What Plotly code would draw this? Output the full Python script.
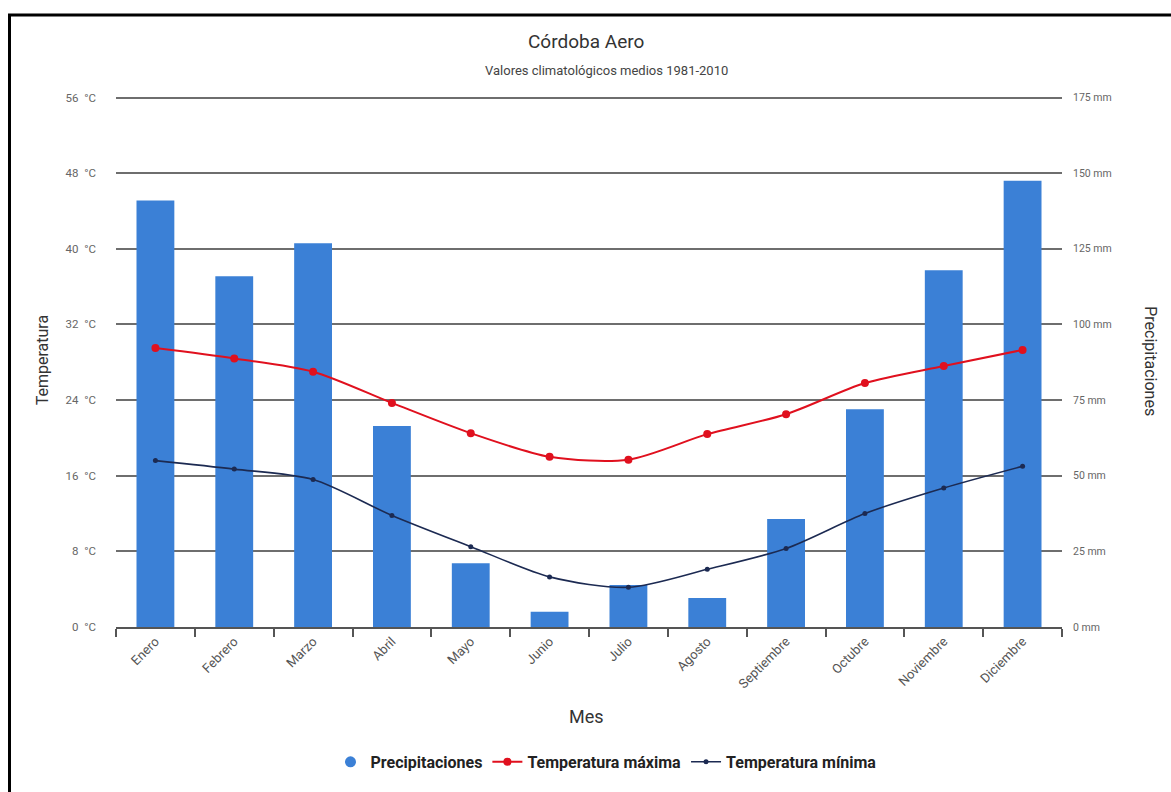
import plotly.graph_objects as go

meses = ["Enero", "Febrero", "Marzo", "Abril", "Mayo", "Junio", "Julio",
         "Agosto", "Septiembre", "Octubre", "Noviembre", "Diciembre"]
precipitaciones = [141.0, 115.9, 126.8, 66.4, 21.1, 5.0, 13.9, 9.6, 35.7, 72.0, 117.9, 147.5]
temp_max = [29.5, 28.4, 27.0, 23.7, 20.5, 18.0, 17.7, 20.4, 22.5, 25.8, 27.6, 29.3]
temp_min = [17.6, 16.7, 15.6, 11.8, 8.5, 5.3, 4.2, 6.1, 8.3, 12.0, 14.7, 17.0]

BLUE = "#3b80d6"
RED = "#e0101e"
NAVY = "#1c2a52"
FONT = "Roboto"

W, H = 1171, 792
ML, MR, MT, MB = 116, 109, 95.5, 165
PW, PH = W - ML - MR, H - MT - MB

P_MAX = 175.5
T_MAX = 56 * P_MAX / 175


def px_x(p):
    return (p - ML) / PW


def px_y(p):
    return 1 - (p - MT) / PH


fig = go.Figure()

# bars on primary axis (drawn underneath), lines on overlaying axis (drawn above)
fig.add_trace(go.Bar(
    x=meses, y=precipitaciones, yaxis="y", name="Precipitaciones",
    marker=dict(color=BLUE, line=dict(width=0)), showlegend=False,
))
fig.add_trace(go.Scatter(
    x=[None], y=[None], mode="markers", name="Precipitaciones", yaxis="y",
    marker=dict(symbol="circle", size=11, color=BLUE),
))
fig.add_trace(go.Scatter(
    x=meses, y=temp_max, mode="lines+markers", name="Temperatura máxima", yaxis="y2",
    line=dict(color=RED, width=2, shape="spline", smoothing=0.8),
    marker=dict(color=RED, size=8),
))
fig.add_trace(go.Scatter(
    x=meses, y=temp_min, mode="lines+markers", name="Temperatura mínima", yaxis="y2",
    line=dict(color=NAVY, width=1.6, shape="spline", smoothing=0.8),
    marker=dict(color=NAVY, size=5),
))

fig.update_layout(
    width=W, height=H,
    margin=dict(l=ML, r=MR, t=MT, b=MB, autoexpand=False),
    paper_bgcolor="white", plot_bgcolor="white",
    font=dict(family=FONT, color="#333333"),
    bargap=0.52,
    showlegend=True,
    legend=dict(orientation="h", x=px_x(606), xanchor="center",
                y=px_y(762), yanchor="middle",
                font=dict(family=FONT, size=16, color="#222222", weight="bold"),
                itemwidth=30, tracegroupgap=0),
    xaxis=dict(
        type="category", range=[-0.5, 11.5], tickangle=-45,
        tickfont=dict(family=FONT, size=13, color="#555555"),
        showgrid=False, showline=True, linecolor="#555555", linewidth=1.5,
        ticks="outside", ticklen=8, tickcolor="#555555", tickwidth=1.5,
        tickson="boundaries",
    ),
    yaxis=dict(
        range=[0, P_MAX], dtick=25, tick0=0, ticksuffix=" mm",
        tickfont=dict(family=FONT, size=10.5, color="#666666"),
        side="right", showgrid=True, gridcolor="#6e6e6e", gridwidth=1.5,
        zeroline=False, showline=False, ticks="", ticklabelstandoff=10,
    ),
    yaxis2=dict(
        range=[0, T_MAX], dtick=8, tick0=0, ticksuffix="\u2002°C",
        tickfont=dict(family=FONT, size=11.5, color="#666666"),
        overlaying="y", side="left", showgrid=False, zeroline=False,
        showline=False, ticks="", ticklabelstandoff=19,
    ),
    annotations=[
        dict(text="Córdoba Aero", x=px_x(586), y=px_y(41), xref="paper", yref="paper",
             showarrow=False, xanchor="center", yanchor="middle",
             font=dict(family=FONT, size=19, color="#333333")),
        dict(text="Valores climatológicos medios 1981-2010", x=px_x(606), y=px_y(70),
             xref="paper", yref="paper", showarrow=False, xanchor="center", yanchor="middle",
             font=dict(family=FONT, size=13, color="#444444")),
        dict(text="Temperatura", x=px_x(42), y=px_y(360), xref="paper", yref="paper",
             showarrow=False, xanchor="center", yanchor="middle", textangle=-90,
             font=dict(family=FONT, size=16, color="#333333")),
        dict(text="Precipitaciones", x=px_x(1151), y=px_y(361), xref="paper", yref="paper",
             showarrow=False, xanchor="center", yanchor="middle", textangle=90,
             font=dict(family=FONT, size=16, color="#333333")),
        dict(text="Mes", x=px_x(586), y=px_y(717), xref="paper", yref="paper",
             showarrow=False, xanchor="center", yanchor="middle",
             font=dict(family=FONT, size=18, color="#333333")),
    ],
    shapes=[
        dict(type="rect", xref="paper", yref="paper",
             x0=px_x(9.5), x1=px_x(1200), y0=px_y(830), y1=px_y(14.5),
             line=dict(color="black", width=3), layer="above"),
    ],
)

fig.write_html("out.html")
